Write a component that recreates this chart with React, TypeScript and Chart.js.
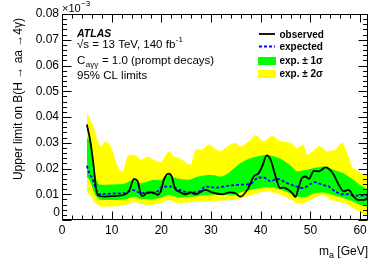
import React, { useEffect, useRef } from 'react';
import { Chart, registerables } from 'chart.js';

Chart.register(...registerables);

// ---- data ----
const obsMass = [5.0, 5.7, 6.3, 6.9, 7.3, 8.5, 10.5, 12.5, 13.5, 14.5, 15.2, 15.9, 16.3, 17.2, 18.2, 19.2, 19.9, 20.5, 21.4, 22.1, 22.7, 23.6, 24.9, 25.9, 26.9, 28.9, 30.2, 32.2, 33.8, 34.9, 35.9, 37.3, 38.6, 39.6, 40.3, 41.2, 42.0, 43.0, 43.9, 44.6, 45.6, 46.3, 47.0, 47.6, 48.3, 49.0, 49.7, 50.7, 51.7, 52.3, 53.0, 53.7, 54.7, 55.7, 56.7, 57.7, 58.7, 59.7, 60.7, 61.6];
const obsLimit = [0.0371, 0.0306, 0.0221, 0.0117, 0.0095, 0.0091, 0.0093, 0.0098, 0.0113, 0.016, 0.0152, 0.0098, 0.0093, 0.0107, 0.0107, 0.0098, 0.0112, 0.0156, 0.018, 0.0169, 0.0124, 0.011, 0.01, 0.0107, 0.01, 0.0117, 0.0107, 0.01, 0.0107, 0.0104, 0.0091, 0.0117, 0.0169, 0.0182, 0.0208, 0.0251, 0.0234, 0.0169, 0.0124, 0.0126, 0.0117, 0.0105, 0.009, 0.0124, 0.0163, 0.0169, 0.016, 0.0191, 0.0189, 0.0195, 0.0204, 0.0199, 0.0176, 0.0137, 0.0111, 0.0117, 0.0091, 0.0078, 0.0078, 0.0085];

const expMass = [5.0, 5.5, 6.2, 6.9, 7.5, 10.5, 12.5, 14.2, 15.5, 17.2, 18.9, 20.2, 21.9, 23.6, 25.6, 27.6, 28.9, 30.9, 33.9, 35.9, 37.95, 39.6, 40.6, 42.0, 43.3, 45.3, 47.3, 48.6, 50.0, 51.0, 52.3, 53.7, 55.0, 56.4, 57.7, 58.7, 61.6];
const expLimit = [0.0211, 0.0182, 0.0156, 0.0117, 0.01, 0.0103, 0.0104, 0.0117, 0.0107, 0.0104, 0.0107, 0.013, 0.013, 0.0117, 0.0107, 0.0111, 0.013, 0.0126, 0.0134, 0.0137, 0.014, 0.0165, 0.0165, 0.015, 0.016, 0.0143, 0.013, 0.0124, 0.014, 0.0147, 0.0137, 0.013, 0.0111, 0.01, 0.01, 0.0095, 0.0095];

const bandMass = [5.0, 5.7, 6.5, 7.2, 7.8, 8.8, 9.8, 11.2, 12.2, 13.2, 14.5, 15.9, 17.2, 18.5, 19.9, 21.5, 22.6, 23.6, 24.6, 25.9, 26.9, 28.2, 29.6, 30.6, 31.9, 33.3, 34.9, 35.9, 37.6, 39.0, 40.6, 42.3, 44.0, 46.0, 47.3, 48.6, 49.3, 50.7, 51.7, 52.7, 53.3, 54.0, 55.0, 56.4, 57.4, 58.4, 59.7, 60.7, 61.6];
const bandPlus2 = [0.0417, 0.039, 0.0352, 0.031, 0.0286, 0.0306, 0.0286, 0.0208, 0.0189, 0.0247, 0.0254, 0.0234, 0.0247, 0.0234, 0.0225, 0.0267, 0.0247, 0.024, 0.0228, 0.0215, 0.0273, 0.0273, 0.0293, 0.028, 0.0267, 0.0286, 0.03, 0.0286, 0.0306, 0.033, 0.0306, 0.0326, 0.0306, 0.03, 0.028, 0.0293, 0.0254, 0.027, 0.0286, 0.0275, 0.0267, 0.027, 0.0273, 0.03, 0.026, 0.0208, 0.0189, 0.0176, 0.0182];
const bandPlus1 = [0.0319, 0.0306, 0.0189, 0.0143, 0.0137, 0.0137, 0.0138, 0.0139, 0.014, 0.0147, 0.0156, 0.0143, 0.015, 0.0156, 0.0155, 0.0176, 0.0165, 0.016, 0.0157, 0.0158, 0.0166, 0.0172, 0.0176, 0.0174, 0.0169, 0.018, 0.0205, 0.0221, 0.0238, 0.0245, 0.0251, 0.0249, 0.0238, 0.0212, 0.0189, 0.0193, 0.0195, 0.0202, 0.0205, 0.0208, 0.0204, 0.02, 0.0193, 0.0184, 0.0172, 0.016, 0.014, 0.0128, 0.0117];
const bandMinus1 = [0.0169, 0.015, 0.0105, 0.0085, 0.0078, 0.0078, 0.0078, 0.0078, 0.008, 0.0083, 0.009, 0.0081, 0.0081, 0.0082, 0.0085, 0.0098, 0.0092, 0.0087, 0.0088, 0.009, 0.0091, 0.0095, 0.0098, 0.0098, 0.0097, 0.0098, 0.0098, 0.0107, 0.0115, 0.012, 0.0126, 0.0126, 0.0118, 0.0102, 0.0091, 0.0088, 0.009, 0.0104, 0.0106, 0.0107, 0.0104, 0.0101, 0.0094, 0.0087, 0.008, 0.0074, 0.0061, 0.0055, 0.0052];
const bandMinus2 = [0.0108, 0.0095, 0.0072, 0.0058, 0.0052, 0.0052, 0.0052, 0.0053, 0.0058, 0.0061, 0.007, 0.0062, 0.0059, 0.006, 0.0065, 0.0078, 0.0068, 0.0065, 0.0067, 0.0069, 0.007, 0.0071, 0.0072, 0.0074, 0.0075, 0.0077, 0.0078, 0.0085, 0.0093, 0.0102, 0.011, 0.0108, 0.0098, 0.008, 0.0065, 0.0065, 0.007, 0.0085, 0.0092, 0.0098, 0.009, 0.0078, 0.0074, 0.0066, 0.0061, 0.0048, 0.0036, 0.002, 0.002];

const xTickValues = [0, 10, 20, 30, 40, 50, 60];
const yTickValues = [0, 0.01, 0.02, 0.03, 0.04, 0.05, 0.06, 0.07, 0.08];
const yTickLabels = ['0', '0.01', '0.02', '0.03', '0.04', '0.05', '0.06', '0.07', '0.08'];

const FONT = "'Liberation Sans', Arial, Helvetica, sans-serif";

const pts = (xs: number[], ys: number[]) => xs.map((x, i) => ({ x, y: ys[i] }));

const decorPlugin = {
  id: 'atlasDecor',
  afterDraw(chart: any) {
    const { ctx, chartArea: a, scales } = chart;
    const xs = scales.x;
    const ys = scales.y;
    ctx.save();
    ctx.strokeStyle = '#000';
    ctx.fillStyle = '#000';
    ctx.lineWidth = 1;
    const line = (x1: number, y1: number, x2: number, y2: number) => {
      ctx.beginPath();
      ctx.moveTo(x1, y1);
      ctx.lineTo(x2, y2);
      ctx.stroke();
    };
    // frame
    const L = a.left + 0.5, R = a.right - 0.5, T = a.top + 0.5, B = a.bottom - 0.5;
    ctx.strokeRect(L, T, R - L, B - T);
    // x ticks (major every 10, minor every 2)
    for (let k = 0; k * 2 <= xs.max + 1e-9; k++) {
      const px = Math.round(xs.getPixelForValue(k * 2)) + 0.5;
      const len = k % 5 === 0 ? 8 : 4;
      line(px, B, px, B - len);
      line(px, T, px, T + len);
    }
    // y ticks (major every 0.01, minor every 0.002)
    for (let k = 0; k <= 40; k++) {
      const py = Math.round(ys.getPixelForValue(k * 0.002)) + 0.5;
      const len = k % 5 === 0 ? 9 : 4.5;
      line(L, py, L + len, py);
      line(R, py, R - len, py);
    }

    ctx.textBaseline = 'alphabetic';
    ctx.textAlign = 'left';
    // raised "0" label of the y axis (ROOT style)
    ctx.font = `12px ${FONT}`;
    ctx.textAlign = 'right';
    ctx.fillText(yTickLabels[0], a.left - 2, ys.getPixelForValue(yTickValues[0]) - 4);
    ctx.textAlign = 'left';

    // x10^-3
    ctx.font = `11px ${FONT}`;
    ctx.fillText('×10', 62, 12);
    let w = ctx.measureText('×10').width;
    ctx.font = `8px ${FONT}`;
    ctx.fillText('−3', 62 + w + 0.5, 6);

    // y-axis title
    ctx.save();
    ctx.font = `12px ${FONT}`;
    ctx.translate(19, 18);
    ctx.rotate(-Math.PI / 2);
    ctx.textAlign = 'right';
    ctx.textBaseline = 'middle';
    ctx.fillText('Upper limit on B(H → aa →4γ)', 0, 0);
    ctx.restore();

    // x-axis title
    ctx.font = `12px ${FONT}`;
    const p3 = ' [GeV]';
    const w3 = ctx.measureText(p3).width;
    const w1 = ctx.measureText('m').width;
    ctx.font = `9px ${FONT}`;
    const w2 = ctx.measureText('a').width;
    const x0 = 368 - w1 - w2 - w3;
    ctx.font = `12px ${FONT}`;
    ctx.fillText('m', x0, 255);
    ctx.fillText(p3, x0 + w1 + w2, 255);
    ctx.font = `9px ${FONT}`;
    ctx.fillText('a', x0 + w1, 258);

    // ATLAS label block
    const tx = 77;
    ctx.font = `italic bold 10.5px ${FONT}`;
    ctx.fillText('ATLAS', tx, 36.5);
    ctx.font = `11.5px ${FONT}`;
    const s1 = '√s = 13 TeV, 140 fb';
    ctx.fillText(s1, tx, 47.5);
    w = ctx.measureText(s1).width;
    ctx.font = `8px ${FONT}`;
    ctx.fillText('-1', tx + w + 0.5, 42);
    ctx.font = `11.5px ${FONT}`;
    ctx.fillText('C', tx, 63.5);
    const wc = ctx.measureText('C').width;
    ctx.font = `8px ${FONT}`;
    ctx.fillText('aγγ', tx + wc + 0.5, 66.5);
    const ws = ctx.measureText('aγγ').width;
    ctx.font = `11.5px ${FONT}`;
    ctx.fillText(' = 1.0 (prompt decays)', tx + wc + ws + 1, 63.5);
    ctx.fillText('95% CL limits', tx, 78.5);

    // legend
    const lx0 = 259, lx1 = 275, txl = 279.5;
    ctx.lineWidth = 1.8;
    ctx.strokeStyle = '#000';
    line(lx0, 34, lx1, 34);
    ctx.strokeStyle = '#0000ff';
    ctx.setLineDash([3, 2]);
    line(lx0, 46.5, lx1, 46.5);
    ctx.setLineDash([]);
    ctx.fillStyle = '#00ff00';
    ctx.fillRect(258, 57, 18, 8);
    ctx.fillStyle = '#ffff00';
    ctx.fillRect(258, 70, 18, 8);
    ctx.fillStyle = '#000';
    ctx.font = `bold 10px ${FONT}`;
    ctx.fillText('observed', txl, 37.5);
    ctx.fillText('expected', txl, 50);
    ctx.fillText('exp. ± 1σ', txl, 64);
    ctx.fillText('exp. ± 2σ', txl, 77);
    ctx.restore();
  },
};

export default function App() {
  const ref = useRef<HTMLCanvasElement>(null);
  useEffect(() => {
    if (!ref.current) return;
    Chart.defaults.font.family = FONT;
    Chart.defaults.color = '#000';
    const band = (data: any, color: string, fill: any) => ({
      data,
      borderColor: 'rgba(0,0,0,0)',
      borderWidth: 0,
      backgroundColor: color,
      pointRadius: 0,
      tension: 0.3,
      fill,
    });
    const chart = new Chart(ref.current, {
      type: 'line',
      data: {
        datasets: [
          {
            label: 'observed',
            data: pts(obsMass, obsLimit),
            borderColor: '#000',
            borderWidth: 1.8,
            pointRadius: 0,
            cubicInterpolationMode: 'monotone',
            fill: false,
          },
          {
            label: 'expected',
            data: pts(expMass, expLimit),
            borderColor: '#0000ff',
            borderWidth: 1.8,
            borderDash: [3, 2],
            pointRadius: 0,
            cubicInterpolationMode: 'monotone',
            fill: false,
          },
          { label: 'exp. +1σ', ...band(pts(bandMass, bandPlus1), '#00ff00', '+1') },
          { label: 'exp. -1σ', ...band(pts(bandMass, bandMinus1), '#00ff00', false) },
          { label: 'exp. +2σ', ...band(pts(bandMass, bandPlus2), '#ffff00', '+1') },
          { label: 'exp. -2σ', ...band(pts(bandMass, bandMinus2), '#ffff00', false) },
        ],
      },
      options: {
        animation: false,
        responsive: false,
        devicePixelRatio: 1,
        layout: { padding: { left: 0, right: 20, top: 14, bottom: 0 } },
        plugins: { legend: { display: false }, tooltip: { enabled: false } },
        scales: {
          x: {
            type: 'linear',
            min: 0,
            max: 61.6,
            grid: { display: false, drawTicks: false },
            border: { display: false },
            afterBuildTicks: (s: any) => {
              s.ticks = xTickValues.map((v) => ({ value: v }));
            },
            afterFit: (s: any) => {
              s.height = 44;
            },
            ticks: {
              font: { size: 12, family: FONT },
              color: '#000',
              padding: 3,
              maxRotation: 0,
              callback: (v: any) => String(v),
            },
          },
          y: {
            type: 'linear',
            min: 0,
            max: 0.08,
            grid: { display: false, drawTicks: false },
            border: { display: false },
            afterBuildTicks: (s: any) => {
              s.ticks = yTickValues.map((v) => ({ value: v }));
            },
            afterFit: (s: any) => {
              s.width = 62;
            },
            ticks: {
              font: { size: 12, family: FONT },
              color: '#000',
              padding: 3,
              callback: (_v: any, i: number) => (i === 0 ? '' : yTickLabels[i]),
            },
          },
        },
      },
      plugins: [decorPlugin],
    } as any);
    return () => chart.destroy();
  }, []);
  return (
    <div style={{ position: 'fixed', left: 0, top: 0, width: 388, height: 264, background: '#fff' }}>
      <canvas ref={ref} width={388} height={264} style={{ display: 'block', width: 388, height: 264 }} />
    </div>
  );
}
